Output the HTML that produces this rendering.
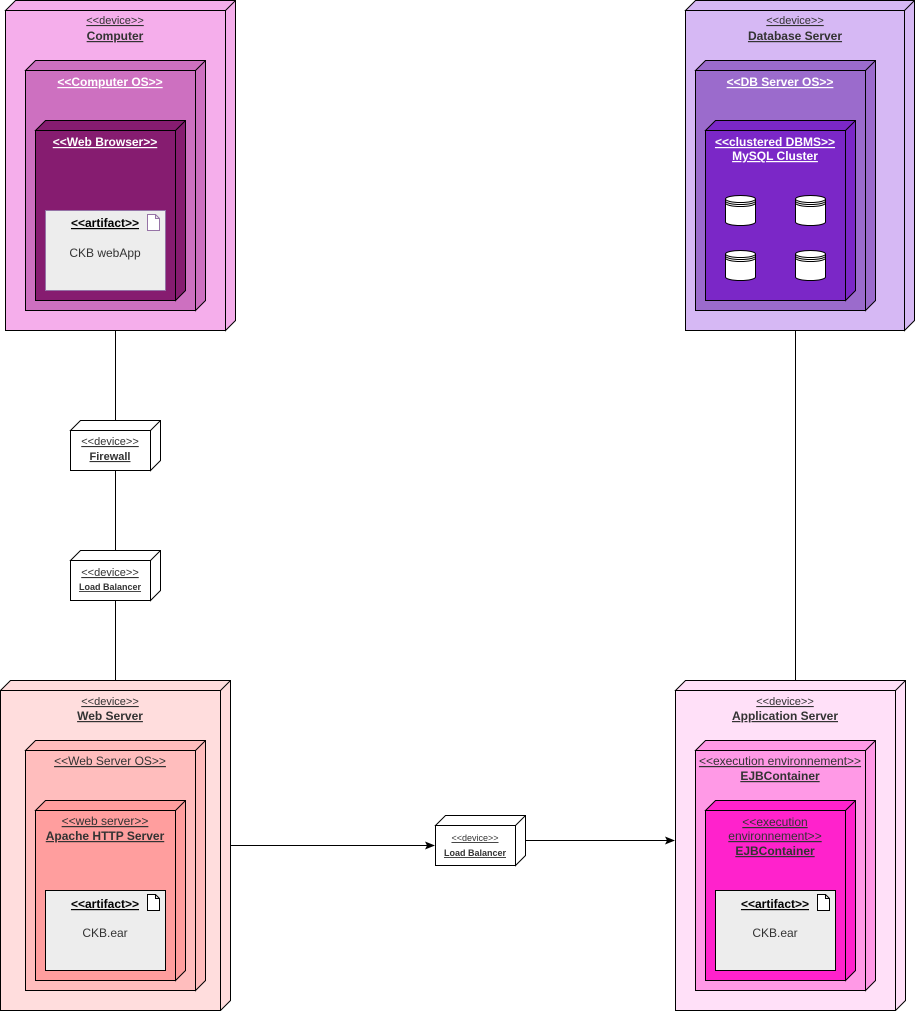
<!DOCTYPE html>
<html><head><meta charset="utf-8"><style>
html,body{margin:0;padding:0;background:#fff;}
svg text{font-family:"Liberation Sans",sans-serif;}
.u{text-decoration:underline;}
</style></head><body>
<svg width="915" height="1011" viewBox="0 0 915 1011" xmlns="http://www.w3.org/2000/svg">
<defs>
<marker id="ar" markerWidth="10" markerHeight="10" refX="9" refY="5" orient="auto" markerUnits="userSpaceOnUse"><path d="M0,1 L10,5 L0,9 L2,5 Z" fill="#000"/></marker>
</defs>
<g stroke="#000" stroke-width="1" fill="none">
<line x1="115.5" y1="330" x2="115.5" y2="430"/>
<line x1="115.5" y1="470" x2="115.5" y2="560"/>
<line x1="115.5" y1="600" x2="115.5" y2="680"/>
<line x1="795.5" y1="330" x2="795.5" y2="680"/>
<line x1="230" y1="845.5" x2="434" y2="845.5" marker-end="url(#ar)"/>
<line x1="525" y1="840.5" x2="674" y2="840.5" marker-end="url(#ar)"/>
</g>
<g stroke="#000" stroke-width="1">
<path d="M5.5,10.5 L15.5,0.5 L235.5,0.5 L235.5,320.5 L225.5,330.5 L225.5,10.5 Z" fill="#f5aeeb"/>
<rect x="5.5" y="10.5" width="220" height="320" fill="#f5aeeb"/>
<path d="M25.5,70.5 L35.5,60.5 L205.5,60.5 L205.5,300.5 L195.5,310.5 L195.5,70.5 Z" fill="#cd70c0"/>
<rect x="25.5" y="70.5" width="170" height="240" fill="#cd70c0"/>
<path d="M35.5,130.5 L45.5,120.5 L185.5,120.5 L185.5,290.5 L175.5,300.5 L175.5,130.5 Z" fill="#861c70"/>
<rect x="35.5" y="130.5" width="140" height="170" fill="#861c70"/>
<rect x="45.5" y="210.5" width="120" height="80" fill="#ededed" stroke="#9673a6"/>
<path d="M685.5,10.5 L695.5,0.5 L914.5,0.5 L914.5,320.5 L904.5,330.5 L904.5,10.5 Z" fill="#d6b8f4"/>
<rect x="685.5" y="10.5" width="219" height="320" fill="#d6b8f4"/>
<path d="M695.5,70.5 L705.5,60.5 L875.5,60.5 L875.5,300.5 L865.5,310.5 L865.5,70.5 Z" fill="#9b6bcc"/>
<rect x="695.5" y="70.5" width="170" height="240" fill="#9b6bcc"/>
<path d="M705.5,130.5 L715.5,120.5 L855.5,120.5 L855.5,290.5 L845.5,300.5 L845.5,130.5 Z" fill="#7b27c7"/>
<rect x="705.5" y="130.5" width="140" height="170" fill="#7b27c7"/>
<path d="M0.5,690.5 L10.5,680.5 L230.5,680.5 L230.5,1000.5 L220.5,1010.5 L220.5,690.5 Z" fill="#ffdddd"/>
<rect x="0.5" y="690.5" width="220" height="320" fill="#ffdddd"/>
<path d="M25.5,750.5 L35.5,740.5 L205.5,740.5 L205.5,980.5 L195.5,990.5 L195.5,750.5 Z" fill="#ffbdbd"/>
<rect x="25.5" y="750.5" width="170" height="240" fill="#ffbdbd"/>
<path d="M35.5,810.5 L45.5,800.5 L185.5,800.5 L185.5,970.5 L175.5,980.5 L175.5,810.5 Z" fill="#ff9e9e"/>
<rect x="35.5" y="810.5" width="140" height="170" fill="#ff9e9e"/>
<rect x="45.5" y="890.5" width="120" height="80" fill="#ededed"/>
<path d="M675.5,690.5 L685.5,680.5 L905.5,680.5 L905.5,1000.5 L895.5,1010.5 L895.5,690.5 Z" fill="#ffe0f8"/>
<rect x="675.5" y="690.5" width="220" height="320" fill="#ffe0f8"/>
<path d="M695.5,750.5 L705.5,740.5 L875.5,740.5 L875.5,980.5 L865.5,990.5 L865.5,750.5 Z" fill="#ff99e6"/>
<rect x="695.5" y="750.5" width="170" height="240" fill="#ff99e6"/>
<path d="M705.5,810.5 L715.5,800.5 L855.5,800.5 L855.5,970.5 L845.5,980.5 L845.5,810.5 Z" fill="#ff22cc"/>
<rect x="705.5" y="810.5" width="140" height="170" fill="#ff22cc"/>
<rect x="715.5" y="890.5" width="120" height="80" fill="#ededed"/>
<path d="M70.5,430.5 L80.5,420.5 L160.5,420.5 L160.5,460.5 L150.5,470.5 L150.5,430.5 Z" fill="#fff"/>
<rect x="70.5" y="430.5" width="80" height="40" fill="#fff"/>
<path d="M70.5,560.5 L80.5,550.5 L160.5,550.5 L160.5,590.5 L150.5,600.5 L150.5,560.5 Z" fill="#fff"/>
<rect x="70.5" y="560.5" width="80" height="40" fill="#fff"/>
<path d="M435.5,825.5 L445.5,815.5 L525.5,815.5 L525.5,855.5 L515.5,865.5 L515.5,825.5 Z" fill="#fff"/>
<rect x="435.5" y="825.5" width="80" height="40" fill="#fff"/>
</g>
<g stroke="#000" stroke-width="1">
<line x1="225.5" y1="10.5" x2="235.5" y2="0.5"/><line x1="195.5" y1="70.5" x2="205.5" y2="60.5"/><line x1="175.5" y1="130.5" x2="185.5" y2="120.5"/>
<line x1="904.5" y1="10.5" x2="914.5" y2="0.5"/><line x1="865.5" y1="70.5" x2="875.5" y2="60.5"/><line x1="845.5" y1="130.5" x2="855.5" y2="120.5"/>
<line x1="220.5" y1="690.5" x2="230.5" y2="680.5"/><line x1="195.5" y1="750.5" x2="205.5" y2="740.5"/><line x1="175.5" y1="810.5" x2="185.5" y2="800.5"/>
<line x1="895.5" y1="690.5" x2="905.5" y2="680.5"/><line x1="865.5" y1="750.5" x2="875.5" y2="740.5"/><line x1="845.5" y1="810.5" x2="855.5" y2="800.5"/>
<line x1="150.5" y1="430.5" x2="160.5" y2="420.5"/><line x1="150.5" y1="560.5" x2="160.5" y2="550.5"/><line x1="515.5" y1="825.5" x2="525.5" y2="815.5"/>
</g>
<g fill="#fff" stroke-width="1">
<path d="M147.5,214.5 h8 l4,4 v12 h-12 Z M155.5,214.5 v4 h4" stroke="#9673a6"/>
<path d="M147.5,894.5 h8 l4,4 v12 h-12 Z M155.5,894.5 v4 h4" stroke="#000"/>
<path d="M817.5,894.5 h8 l4,4 v12 h-12 Z M825.5,894.5 v4 h4" stroke="#000"/>
</g>
<g fill="#fff" stroke="#000" stroke-width="1">
<g id="cyl"><path d="M725.5,199 A15,3.5 0 0 1 755.5,199 L755.5,222 A15,3.5 0 0 1 725.5,222 Z"/><path d="M725.5,199 A15,3.5 0 0 0 755.5,199 M725.5,201 A15,3.5 0 0 0 755.5,201 M725.5,203 A15,3.5 0 0 0 755.5,203" fill="none"/></g>
<use href="#cyl" x="70"/><use href="#cyl" y="55"/><use href="#cyl" x="70" y="55"/>
</g>
<g text-anchor="middle" font-size="11">
<text class="u" x="115" y="24" fill="#333">&lt;&lt;device&gt;&gt;</text>
<text class="u" x="115" y="40" font-size="12" font-weight="bold" fill="#333">Computer</text>
<text class="u" x="110" y="86" font-size="12" font-weight="bold" fill="#fff">&lt;&lt;Computer OS&gt;&gt;</text>
<text class="u" x="105" y="146" font-size="12" font-weight="bold" fill="#fff">&lt;&lt;Web Browser&gt;&gt;</text>
<text class="u" x="105" y="227" font-size="12" font-weight="bold" fill="#000">&lt;&lt;artifact&gt;&gt;</text>
<text x="105" y="257" font-size="12" fill="#333">CKB webApp</text>

<text class="u" x="795" y="24" fill="#333">&lt;&lt;device&gt;&gt;</text>
<text class="u" x="795" y="40" font-size="12" font-weight="bold" fill="#333">Database Server</text>
<text class="u" x="780" y="86" font-size="12" font-weight="bold" fill="#fff">&lt;&lt;DB Server OS&gt;&gt;</text>
<text class="u" x="775" y="146" font-size="12" font-weight="bold" fill="#fff">&lt;&lt;clustered DBMS&gt;&gt;</text>
<text class="u" x="775" y="160" font-size="12" font-weight="bold" fill="#fff">MySQL Cluster</text>

<text class="u" x="110" y="705" fill="#333">&lt;&lt;device&gt;&gt;</text>
<text class="u" x="110" y="720" font-size="12" font-weight="bold" fill="#333">Web Server</text>
<text class="u" x="110" y="765" font-size="12" fill="#333">&lt;&lt;Web Server OS&gt;&gt;</text>
<text class="u" x="105" y="825" font-size="12" fill="#333">&lt;&lt;web server&gt;&gt;</text>
<text class="u" x="105" y="840" font-size="12" font-weight="bold" fill="#333">Apache HTTP Server</text>
<text class="u" x="105" y="908" font-size="12" font-weight="bold" fill="#000">&lt;&lt;artifact&gt;&gt;</text>
<text x="105" y="937" font-size="12" fill="#333">CKB.ear</text>

<text class="u" x="785" y="705" fill="#333">&lt;&lt;device&gt;&gt;</text>
<text class="u" x="785" y="720" font-size="12" font-weight="bold" fill="#333">Application Server</text>
<text class="u" x="780" y="765" font-size="12" fill="#333">&lt;&lt;execution environnement&gt;&gt;</text>
<text class="u" x="780" y="780" font-size="12" font-weight="bold" fill="#333">EJBContainer</text>
<text class="u" x="775" y="826" font-size="12" fill="#333">&lt;&lt;execution</text>
<text class="u" x="775" y="840" font-size="12" fill="#333">environnement&gt;&gt;</text>
<text class="u" x="775" y="855" font-size="12" font-weight="bold" fill="#333">EJBContainer</text>
<text class="u" x="775" y="908" font-size="12" font-weight="bold" fill="#000">&lt;&lt;artifact&gt;&gt;</text>
<text x="775" y="937" font-size="12" fill="#333">CKB.ear</text>

<text class="u" x="110" y="445" fill="#333">&lt;&lt;device&gt;&gt;</text>
<text class="u" x="110" y="460" font-weight="bold" fill="#333">Firewall</text>
<text class="u" x="110" y="576" fill="#333">&lt;&lt;device&gt;&gt;</text>
<text class="u" x="110" y="590" font-size="9" font-weight="bold" fill="#333">Load Balancer</text>
<text class="u" x="475" y="841" font-size="9" fill="#333">&lt;&lt;device&gt;&gt;</text>
<text class="u" x="475" y="856" font-size="9" font-weight="bold" fill="#333">Load Balancer</text>
</g>
</svg>
</body></html>
